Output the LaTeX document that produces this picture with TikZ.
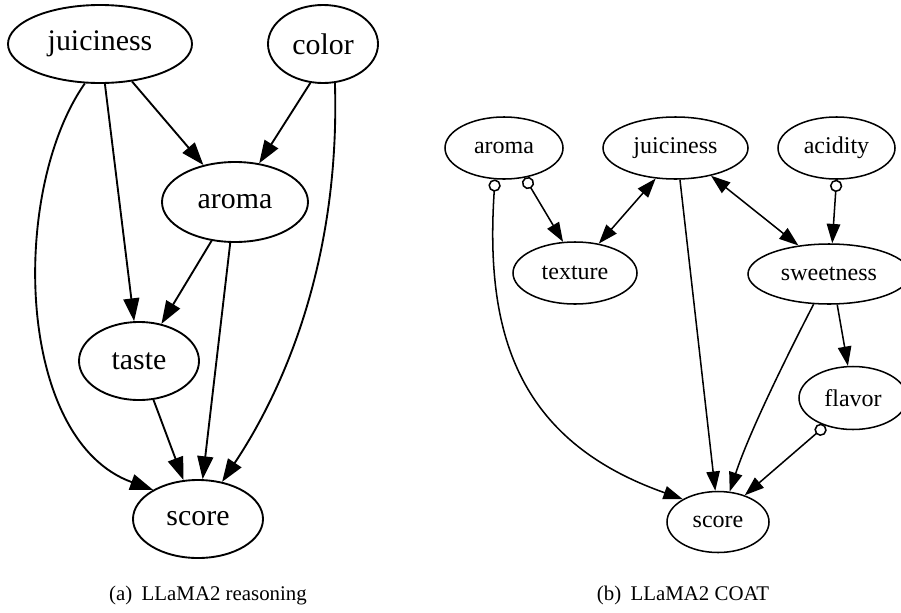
\documentclass[tikz,border=0pt]{standalone}
\usepackage{fontspec}
\setmainfont{Liberation Serif}
\usetikzlibrary{shapes.geometric,arrows.meta}
\tikzset{
  lnode/.style={ellipse, draw, line width=1.6pt, inner sep=0pt, font=\fontsize{25.5}{30}\selectfont},
  rnode/.style={ellipse, draw, line width=1.3pt, inner sep=0pt, font=\fontsize{20.5}{24}\selectfont},
  ledge/.style={line width=1.6pt, -{Triangle[length=19.5pt,width=13.6pt]}},
  redge/.style={line width=1.3pt, -{Triangle[length=16.5pt,width=11.5pt]}},
  rbi/.style={line width=1.3pt, {Triangle[length=16.5pt,width=11.5pt]}-{Triangle[length=16.5pt,width=11.5pt]}},
  rcirc/.style={line width=1.3pt, {Circle[open,length=10.5pt,width=10.5pt]}-{Triangle[length=16.5pt,width=11.5pt]}},
  caption/.style={font=\fontsize{17.8}{21}\selectfont, anchor=base}
}
\begin{document}
\begin{tikzpicture}[x=0.03cm,y=-0.03cm]
\useasboundingbox (0,0) rectangle (901,612);
% left graph
\node[lnode, minimum width=5.52cm, minimum height=2.34cm] (Ljuic) at (100,44) {juiciness};
\node[lnode, minimum width=3.3cm, minimum height=2.34cm] (Lcolor) at (323,44) {color};
\node[lnode, minimum width=4.38cm, minimum height=2.4cm] (Laroma) at (235,202) {aroma};
\node[lnode, minimum width=3.6cm, minimum height=2.34cm] (Ltaste) at (139,361) {taste};
\node[lnode, minimum width=3.9cm, minimum height=2.34cm] (Lscore) at (198,519) {score};
\draw[ledge] (Ljuic.-111) .. controls (10,190) and (15,440) .. (Lscore.147.8);
\draw[ledge] (Ljuic) -- (Ltaste);
\draw[ledge] (Ljuic) -- (Laroma);
\draw[ledge] (Lcolor.-108) -- (Laroma.58.8);
\draw[ledge] (Lcolor.-73.3) .. controls (340,250) and (290,380) .. (Lscore.57);
\draw[ledge] (Laroma) -- (Ltaste);
\draw[ledge] (Laroma) -- (Lscore);
\draw[ledge] (Ltaste) -- (Lscore);
\node[caption] (capa) at (208,600) {(a)\hspace{0.45em}LLaMA2 reasoning};
% right graph
\node[rnode, minimum width=3.54cm, minimum height=1.86cm] (Raroma) at (504,148) {aroma};
\node[rnode, minimum width=4.35cm, minimum height=1.86cm] (Rjuic) at (675.5,148) {juiciness};
\node[rnode, minimum width=3.51cm, minimum height=1.86cm] (Racid) at (836.5,148) {acidity};
\node[rnode, minimum width=3.72cm, minimum height=1.86cm] (Rtext) at (575,273) {texture};
\node[rnode, minimum width=4.86cm, minimum height=1.8cm] (Rsweet) at (829,274) {sweetness};
\node[rnode, minimum width=3.24cm, minimum height=1.89cm] (Rflav) at (853,398) {flavor};
\node[rnode, minimum width=3.06cm, minimum height=1.83cm] (Rscore) at (718,522) {score};
\draw[rcirc] (Raroma.-106) .. controls (485,330) and (515,440) .. (Rscore.147.8);
\draw[rcirc] (Raroma.-55.9) -- (Rtext.111.8);
\draw[rbi] (Rjuic.-123.2) -- (Rtext.51.6);
\draw[rbi] (Rjuic.-38.5) -- (Rsweet.137.8);
\draw[redge] (Rjuic.-82.9) -- (Rscore.95.7);
\draw[rcirc] (Racid.-90) -- (Rsweet.84.5);
\draw[redge] (Rsweet.-75.5) -- (Rflav.99.2);
\draw[redge] (Rsweet.-117.3) .. controls (790,350) and (750,430) .. (Rscore.69.2);
\draw[rcirc] (Rflav.-135) -- (Rscore.45);
\node[caption] (capb) at (683,600) {(b)\hspace{0.45em}LLaMA2 COAT};
\end{tikzpicture}
\end{document}
